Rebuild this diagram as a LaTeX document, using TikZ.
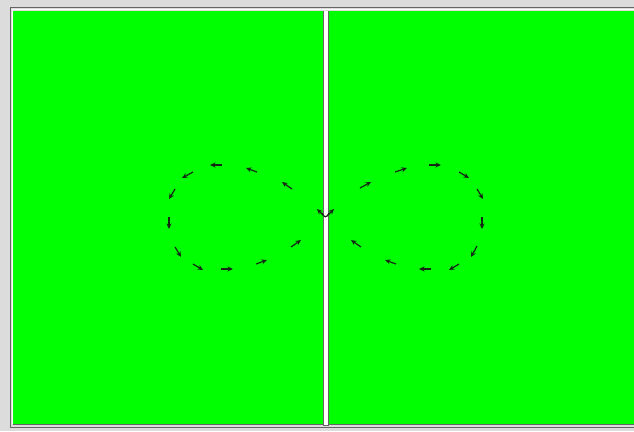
\documentclass[tikz,border=0pt]{standalone}
\usetikzlibrary{arrows.meta}
\definecolor{bggray}{RGB}{220,220,220}
\definecolor{edgegray}{RGB}{100,100,100}
\definecolor{field}{RGB}{0,255,0}
\definecolor{arrowc}{RGB}{20,40,20}
\tikzset{
  flow/.style={draw=arrowc, line width=1.2pt, -{Stealth[length=5.5pt,width=5pt]}},
}
\begin{document}
\begin{tikzpicture}[x=1pt,y=-1pt]
\useasboundingbox (0,0) rectangle (634,431);
\fill[bggray] (0,0) rectangle (634,431);
% frame
\draw[edgegray, line width=1pt] (10,7.5) rectangle (640,427.5);
\draw[white, line width=1pt] (11.5,9.5) -- (640,9.5);
\draw[white, line width=1pt] (12,9.5) -- (12,424);
\fill[field] (13,11) rectangle (640,423.5);
\draw[edgegray, line width=1pt] (12.5,424) -- (640,424);
% divider
\fill[white] (323.5,11) rectangle (328.5,425);
\draw[edgegray, line width=0.8pt] (323.3,11) -- (323.3,425) -- (328.7,425) -- (328.7,11);
% left loop
\draw[flow] (222,165) -- (210,165);
\draw[flow] (257,172) -- (246,168);
\draw[flow] (292,189) -- (282,182);
\draw[flow] (193,172) -- (182,178);
\draw[flow] (175,189) -- (169,199);
\draw[flow] (169,217) -- (169,229);
\draw[flow] (175,247) -- (181,257);
\draw[flow] (193,264) -- (203,270);
\draw[flow] (221,269) -- (233,269);
\draw[flow] (256,264) -- (267,260);
\draw[flow] (291,247) -- (301,240);
% right loop
\draw[flow] (360,188) -- (371,182);
\draw[flow] (395,172) -- (407,168);
\draw[flow] (429,165) -- (441,165);
\draw[flow] (459,172) -- (469,178);
\draw[flow] (477,189) -- (483,199);
\draw[flow] (482,217) -- (482,229);
\draw[flow] (477,246) -- (471,257);
\draw[flow] (459,264) -- (449,270);
\draw[flow] (431,269) -- (419,269);
\draw[flow] (396,264) -- (385,260);
\draw[flow] (361,247) -- (351,240);
% centre
\draw[arrowc, line width=1.2pt] (322,213) .. controls (324,218) and (327,218) .. (329,213);
\draw[flow] (323,215) -- (317,209);
\draw[flow] (328,215) -- (334,209);
\end{tikzpicture}
\end{document}
